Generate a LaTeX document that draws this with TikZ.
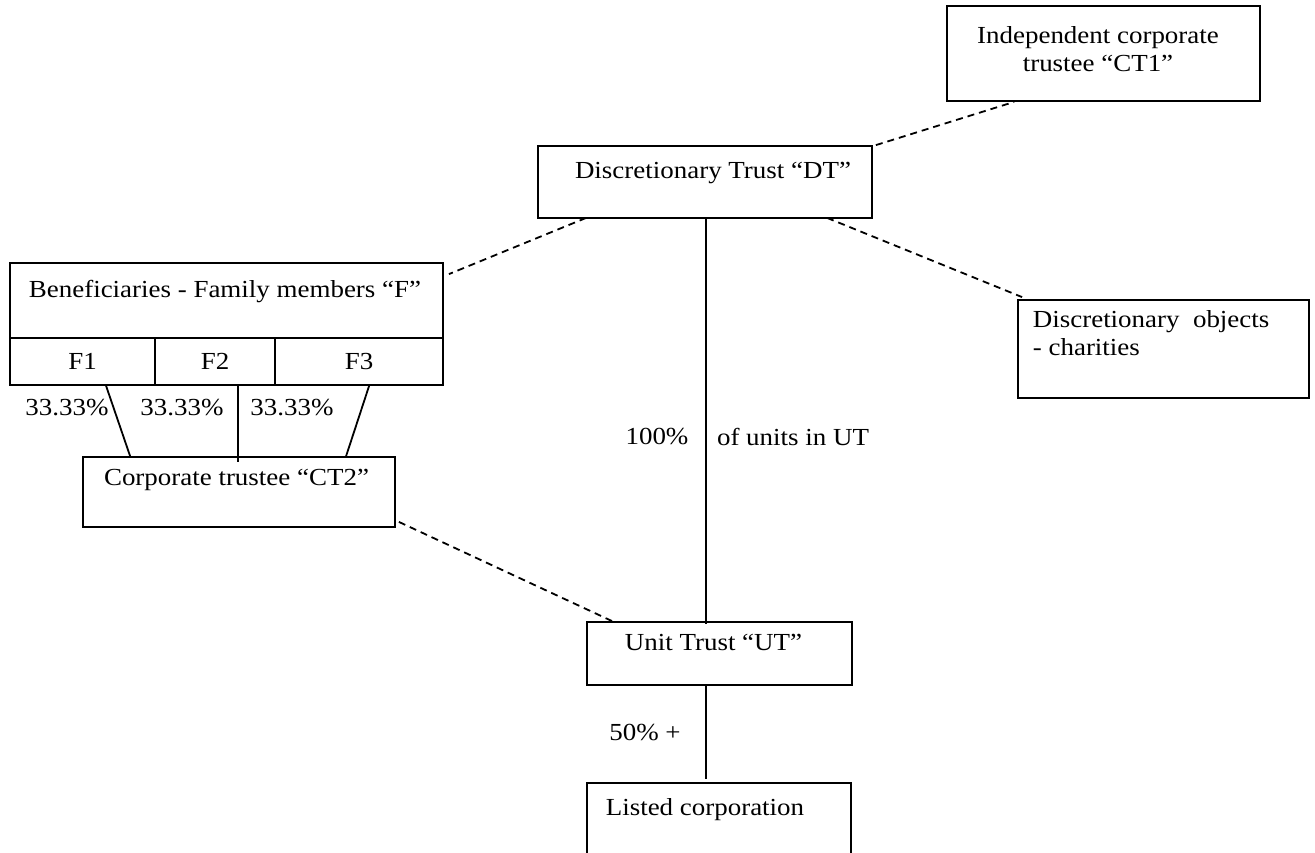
\documentclass[tikz,border=0pt]{standalone}
\usepackage{fontspec}
\setmainfont{Liberation Serif}[FakeStretch=1.1]
\usetikzlibrary{calc}

\begin{document}
\begin{tikzpicture}[x=1pt, y=-1pt, line width=1.8pt, line join=miter,
    font=\fontsize{24.5}{28}\selectfont,
    box/.style={draw, rectangle, inner sep=0pt},
    txt/.style={inner sep=0pt},
    link/.style={dash pattern=on 7pt off 5pt}]
  \useasboundingbox (0,0) rectangle (1315,852);
  \clip (0,0) rectangle (1315,852);
  % boxes
  \node[box, minimum width=313, minimum height=95] (ct1) at (1103.5,53.5) {};
  \node[box, minimum width=334, minimum height=72] (dt) at (705,182) {};
  \node[box, minimum width=433, minimum height=75] (ben) at (226.5,300.5) {};
  \node[box, minimum width=145, minimum height=47] (f1) at (82.5,361.5) {F1};
  \node[box, minimum width=120, minimum height=47] (f2) at (215,361.5) {F2};
  \node[box, minimum width=168, minimum height=47] (f3) at (359,361.5) {F3};
  \node[box, minimum width=291, minimum height=98] (obj) at (1163.5,349) {};
  \node[box, minimum width=312, minimum height=70] (ct2) at (239,492) {};
  \node[box, minimum width=265, minimum height=63] (ut) at (719.5,653.5) {};
  \node[box, minimum width=264, minimum height=100] (lc) at (719,833) {};
  % texts
  \node[txt, align=center] (ct1t) at (1098,49) {Independent corporate\\trustee “CT1”};
  \node[txt] (dtt) at (713,173) {Discretionary Trust “DT”};
  \node[txt] (bent) at (225,292) {Beneficiaries - Family members “F”};
  \node[txt, align=left, anchor=west] (objt) at (1032,333.5) {Discretionary~ objects\\- charities};
  \node[txt] (ct2t) at (236.5,480) {Corporate trustee “CT2”};
  \node[txt] (utt) at (713.5,642) {Unit Trust “UT”};
  \node[txt] (lct) at (705,810) {Listed corporation};
  % holdings
  \draw ($(f1.south west)+(97,0)$) -- ($(ct2.north west)+(48,0)$);
  \draw ($(f2.south west)+(84,0)$) -- ($(ct2.north west)+(156,6)$);
  \draw ($(f3.south west)+(95,0)$) -- ($(ct2.north west)+(264,0)$);
  \node[txt] (p1) at (67,408) {33.33\%};
  \node[txt] (p2) at (182,408) {33.33\%};
  \node[txt] (p3) at (292,408) {33.33\%};
  \draw ($(dt.south west)+(169,0)$) -- ($(ut.north west)+(120,3)$);
  \node[txt] (units) at (657,437) {100\%};
  \node[txt] (unitst) at (793,437) {of units in UT};
  \draw ($(ut.south west)+(120,0)$) -- ($(lc.north west)+(120,-3)$);
  \node[txt] (half) at (645,733) {50\% +};
  % trustee and object links
  \draw[link] ($(dt.north east)+(3,0)$) -- ($(ct1.south west)+(68,0)$);
  \draw[link] ($(dt.south west)+(49,-1)$) -- ($(ben.north east)+(5,12)$);
  \draw[link] ($(dt.south west)+(290,-1)$) -- ($(obj.north west)+(5,-2)$);
  \draw[link] ($(ct2.south east)+(3,-6)$) -- ($(ut.north west)+(26,0)$);
\end{tikzpicture}
\end{document}
